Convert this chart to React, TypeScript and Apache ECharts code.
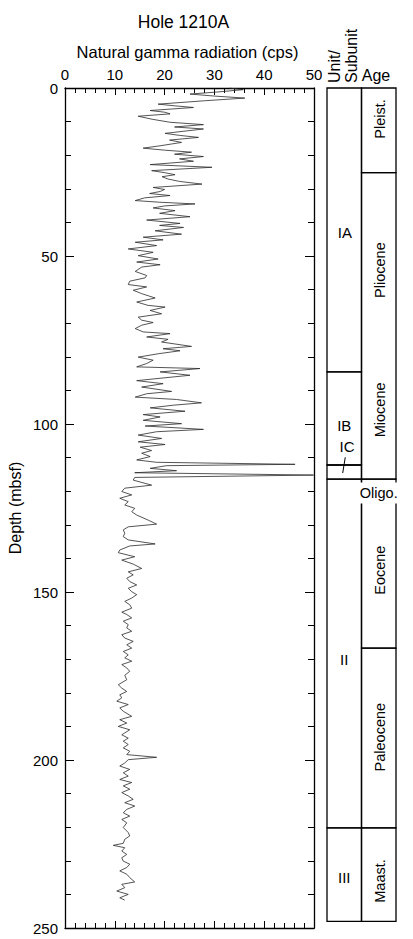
import React, { useEffect, useRef } from "react";
import * as echarts from "echarts";

// Natural gamma radiation (cps) vs depth (mbsf), Hole 1210A
const depthM: number[] = [
  0.0, 0.5, 1.2, 1.8, 2.4, 3.0, 3.8, 4.8, 5.3, 5.8, 6.7, 7.2, 7.7, 8.4, 9.3, 10.2, 10.9, 11.6, 12.2, 13.5,
  14.1, 14.7, 15.5, 16.2, 17.2, 17.9, 18.5, 19.1, 19.7, 20.4, 21.1, 21.8, 22.8, 23.6, 24.6, 25.2, 25.8, 26.4, 27.1, 27.8,
  28.6, 29.6, 30.2, 30.8, 31.4, 32.0, 32.7, 33.5, 34.0, 34.5, 35.1, 35.7, 36.5, 37.3, 38.3, 39.3, 40.3, 40.9, 41.5, 42.5,
  43.5, 44.4, 45.2, 45.9, 46.9, 47.9, 48.9, 49.9, 50.9,
  51.8, 52.6, 53.3, 54.6, 55.8, 56.5, 57.5, 58.5, 59.2, 60.2, 61.2, 62.5, 63.7, 64.7, 65.2, 66.2, 67.2, 68.2, 69.1, 69.8,
  70.6, 71.6, 72.6, 73.1, 74.1, 74.8, 75.6, 76.9, 77.6, 78.2, 79.1, 80.1, 81.0, 82.0, 83.0, 83.5, 84.5, 85.5, 86.3, 87.1,
  88.0, 89.0, 90.3, 91.0, 92.0, 92.7, 93.7, 94.4, 95.2, 96.2, 97.2, 97.9, 98.9, 99.9, 100.6,
  101.6, 102.3, 103.3, 104.3, 105.3, 106.1, 106.9, 107.9, 108.7, 109.7, 110.7, 111.4, 112.0, 112.4, 113.2, 113.9, 114.5, 115.2, 115.9, 116.7,
  118.2, 119.1, 120.1, 121.1, 122.1, 123.1, 124.1, 125.1, 126.1, 127.1, 128.6, 129.8, 130.6, 131.5, 132.5, 133.5, 134.5, 135.7, 136.3, 137.5,
  138.3, 139.5, 140.5, 141.7, 143.0, 144.0, 144.9, 145.9, 146.9, 147.9, 148.9, 149.9,
  150.8, 151.8, 152.8, 153.8, 154.8, 156.0, 156.7, 157.7, 158.7, 159.7, 160.7, 161.7, 162.7, 163.7, 164.7, 165.7, 166.7, 167.7, 168.7, 169.6,
  170.6, 171.6, 172.6, 173.6, 174.8, 176.1, 177.6, 178.6, 179.6, 180.6, 181.5, 182.5, 183.5, 184.5, 185.5, 187.0, 188.0, 189.0, 190.0, 191.0,
  192.5, 193.5, 194.4, 195.4, 196.4, 197.4, 198.4, 199.2, 199.9, 200.9,
  201.8, 202.8, 203.8, 204.8, 205.8, 206.7, 207.7, 208.7, 209.7, 210.7, 211.7, 212.7, 213.7, 214.7, 215.7, 216.7, 217.7, 218.7, 220.1, 221.6,
  222.6, 223.6, 224.8, 225.4, 226.1, 227.1, 228.1, 229.1, 230.1, 231.0, 232.0, 233.0, 234.0, 235.0, 236.3, 237.0, 238.0, 239.0, 240.0, 241.0,
  241.7,
];

const gammaCps: number[] = [
  33.0, 35.8, 30.5, 25.1, 30.0, 36.1, 28.0, 18.7, 22.0, 25.8, 17.1, 20.0, 21.1, 14.7, 17.5, 21.1, 27.8, 22.0, 27.8, 20.1,
  23.0, 26.8, 21.0, 23.4, 19.1, 15.7, 20.0, 25.4, 22.0, 27.8, 23.0, 25.8, 17.1, 29.5, 17.4, 20.0, 22.1, 19.5, 20.7, 23.0,
  27.5, 17.7, 20.0, 19.1, 17.0, 21.1, 16.0, 14.1, 19.0, 26.1, 20.0, 17.7, 22.1, 19.0, 25.1, 16.4, 23.1, 19.0, 23.8, 18.1,
  23.4, 15.7, 19.7, 14.1, 18.4, 12.7, 17.7, 14.7, 18.7,
  14.4, 19.1, 15.4, 14.1, 16.4, 16.1, 13.0, 12.7, 16.4, 13.7, 15.4, 18.1, 14.4, 16.7, 20.1, 17.1, 19.4, 14.7, 15.4, 17.7,
  15.4, 14.1, 15.7, 21.1, 16.4, 20.7, 19.4, 25.4, 19.7, 23.1, 18.7, 14.7, 17.7, 16.4, 14.4, 27.1, 19.1, 25.1, 19.7, 14.4,
  19.7, 15.4, 21.4, 16.4, 14.1, 22.4, 27.4, 21.8, 17.1, 24.1, 15.7, 19.1, 15.7, 23.4, 16.1,
  27.8, 18.4, 14.7, 19.4, 14.7, 20.1, 15.1, 17.4, 15.4, 17.1, 14.4, 18.4, 46.2, 20.4, 17.1, 22.4, 14.0, 49.9, 14.0, 13.7,
  17.4, 12.0, 11.4, 13.4, 11.0, 12.7, 12.0, 14.0, 13.4, 14.4, 16.7, 18.4, 12.7, 11.7, 12.0, 11.7, 12.7, 18.1, 13.0, 11.0,
  10.7, 14.0, 11.4, 13.7, 15.4, 12.7, 13.7, 12.4, 13.0, 14.4, 12.7, 13.4,
  14.4, 13.4, 12.0, 13.0, 13.4, 11.4, 12.4, 13.4, 11.7, 12.7, 12.4, 13.4, 11.4, 12.0, 13.7, 12.4, 13.4, 11.7, 12.7, 12.0,
  13.4, 11.4, 12.4, 13.0, 12.0, 12.4, 10.7, 11.4, 12.4, 11.0, 11.4, 10.4, 12.7, 11.0, 11.7, 13.4, 11.0, 12.4, 10.7, 13.0,
  11.4, 12.7, 11.7, 12.7, 11.7, 13.0, 12.4, 18.4, 12.7, 12.0,
  11.0, 13.0, 11.7, 12.7, 11.0, 13.4, 11.7, 13.0, 11.4, 12.7, 13.7, 12.0, 14.0, 12.4, 11.7, 13.0, 11.4, 12.4, 11.7, 12.7,
  13.0, 12.0, 11.7, 9.7, 12.0, 11.4, 12.4, 11.4, 11.7, 13.0, 12.4, 11.0, 12.4, 13.0, 14.0, 11.4, 12.0, 10.4, 12.7, 11.0,
  12.0,
];

const xTicks = [0, 10, 20, 30, 40, 50];
const yTicks = [0, 50, 100, 150, 200, 250];

// Lithologic units: [column, top depth, bottom depth]
const unitNames = ["IA", "IB", "IC", "II", "III"];
const unitTops = [0, 84.5, 112.2, 116.4, 220.2];
const unitBases = [84.5, 112.2, 116.4, 220.2, 248];
const unitLabelX = [0.52, 0.5, 0.58, 0.5, 0.5];
const unitLabelDepth = [42.9, 100.3, 106.8, 170.2, 235.1];

// Age boxes (drawn boxes) and labels
const ageBoxTops = [0, 25.2, 116.4, 166.7, 220.2];
const ageBoxBases = [25.2, 116.4, 166.7, 220.2, 248];
const ageNames = ["Pleist.", "Pliocene", "Miocene", "Oligo.", "Eocene", "Paleocene", "Maast."];
const ageLabelDepth = [9.2, 54.2, 95.8, 120.5, 143.5, 193.2, 236];
const ageLabelVertical = [true, true, true, false, true, true, true];

const FONT = "'Liberation Sans', Arial, Helvetica, sans-serif";

export default function App() {
  const ref = useRef<HTMLDivElement>(null);

  useEffect(() => {
    if (!ref.current) return;
    const chart = echarts.init(ref.current, undefined, { renderer: "svg" });

    const lineData = depthM.map((d, i) => [gammaCps[i], d]);

    const boxes: number[][] = [];
    unitTops.forEach((t, i) => boxes.push([0, t, unitBases[i]]));
    ageBoxTops.forEach((t, i) => boxes.push([1, t, ageBoxBases[i]]));

    const labels: any[] = [];
    unitNames.forEach((n, i) =>
      labels.push({ value: [unitLabelX[i], unitLabelDepth[i], 0], name: n })
    );
    ageNames.forEach((n, i) =>
      labels.push({
        value: [ageLabelVertical[i] ? 1.55 : 1.5, ageLabelDepth[i], ageLabelVertical[i] ? 1 : 2],
        name: n,
      })
    );

    const axisLineStyle = { color: "#000", width: 1.3 };
    const tickStyle = { color: "#000", width: 1 };

    const xAxisBase = (pos: "top" | "bottom", showLabel: boolean) => ({
      type: "value",
      gridIndex: 0,
      position: pos,
      min: xTicks[0],
      max: xTicks[xTicks.length - 1],
      interval: 10,
      axisLine: { show: true, onZero: false, lineStyle: axisLineStyle },
      axisTick: { show: true, inside: true, length: 7, lineStyle: tickStyle },
      minorTick: { show: true, splitNumber: 5, length: 5, lineStyle: tickStyle },
      splitLine: { show: false },
      axisLabel: {
        show: showLabel,
        fontSize: 15,
        color: "#000",
        fontFamily: FONT,
        margin: 6,
      },
    });

    const yAxisBase = (pos: "left" | "right", showLabel: boolean) => ({
      type: "value",
      gridIndex: 0,
      position: pos,
      inverse: true,
      min: yTicks[0],
      max: yTicks[yTicks.length - 1],
      interval: 50,
      axisLine: { show: true, onZero: false, lineStyle: axisLineStyle },
      axisTick: { show: true, inside: true, length: 9, lineStyle: tickStyle },
      minorTick: { show: true, splitNumber: 5, length: 6, lineStyle: tickStyle },
      splitLine: { show: false },
      axisLabel: {
        show: showLabel,
        fontSize: 15,
        color: "#000",
        fontFamily: FONT,
        margin: 7,
      },
    });

    chart.setOption({
      animation: false,
      backgroundColor: "#fff",
      grid: [
        { left: 65, top: 88, width: 249, height: 840, outerBoundsMode: "none" },
        { left: 327, top: 88, width: 69, height: 840, outerBoundsMode: "none" },
      ],
      xAxis: [
        xAxisBase("top", true),
        xAxisBase("bottom", false),
        { type: "value", gridIndex: 1, min: 0, max: 2, show: false },
      ],
      yAxis: [
        yAxisBase("left", true),
        yAxisBase("right", false),
        { type: "value", gridIndex: 1, min: 0, max: 250, inverse: true, show: false },
      ],
      graphic: [
        {
          type: "text",
          x: 183.5,
          y: 22,
          style: { text: "Hole 1210A", font: `17.5px ${FONT}`, fill: "#000", align: "center", verticalAlign: "middle" },
        },
        {
          type: "text",
          x: 187.5,
          y: 52,
          style: {
            text: "Natural gamma radiation (cps)",
            font: `16.5px ${FONT}`,
            fill: "#000",
            align: "center",
            verticalAlign: "middle",
          },
        },
        {
          type: "text",
          x: 15,
          y: 508,
          rotation: Math.PI / 2,
          style: { text: "Depth (mbsf)", font: `16px ${FONT}`, fill: "#000", align: "center", verticalAlign: "middle" },
        },
        {
          type: "text",
          x: 334,
          y: 83,
          rotation: Math.PI / 2,
          style: { text: "Unit/", font: `16px ${FONT}`, fill: "#000", align: "left", verticalAlign: "middle" },
        },
        {
          type: "text",
          x: 351.5,
          y: 83,
          rotation: Math.PI / 2,
          style: { text: "Subunit", font: `16px ${FONT}`, fill: "#000", align: "left", verticalAlign: "middle" },
        },
        {
          type: "text",
          x: 376,
          y: 75,
          style: { text: "Age", font: `16px ${FONT}`, fill: "#000", align: "center", verticalAlign: "middle" },
        },
      ],
      series: [
        {
          type: "line",
          xAxisIndex: 0,
          yAxisIndex: 0,
          data: lineData,
          symbol: "none",
          lineStyle: { color: "#2a2a2a", width: 0.8 },
          z: 2,
        },
        {
          type: "custom",
          xAxisIndex: 2,
          yAxisIndex: 2,
          data: boxes,
          clip: false,
          z: 2,
          itemStyle: { color: "#000" },
          renderItem: (params: any, api: any) => {
            const c = api.value(0);
            const p1 = api.coord([c, api.value(1)]);
            const p2 = api.coord([c + 1, api.value(2)]);
            return {
              type: "rect",
              shape: { x: p1[0], y: p1[1], width: p2[0] - p1[0], height: p2[1] - p1[1] },
              style: { fill: "none", stroke: "#000", lineWidth: 1.3 },
            };
          },
        },
        {
          type: "custom",
          xAxisIndex: 2,
          yAxisIndex: 2,
          data: [[0.53, 109.9, 0.455, 114.6]],
          clip: false,
          z: 3,
          itemStyle: { color: "#000" },
          renderItem: (params: any, api: any) => {
            const a = api.coord([api.value(0), api.value(1)]);
            const b = api.coord([api.value(2), api.value(3)]);
            return {
              type: "line",
              shape: { x1: a[0], y1: a[1], x2: b[0], y2: b[1] },
              style: { stroke: "#000", lineWidth: 1 },
            };
          },
        },
        {
          type: "custom",
          xAxisIndex: 2,
          yAxisIndex: 2,
          data: labels,
          clip: false,
          z: 4,
          itemStyle: { color: "#000" },
          renderItem: (params: any, api: any) => {
            const p = api.coord([api.value(0), api.value(1)]);
            const kind = api.value(2);
            const name = labels[params.dataIndex].name;
            const style: any = {
              text: name,
              font: `${kind === 0 ? 15 : 14.5}px ${FONT}`,
              fill: "#000",
              align: "center",
              verticalAlign: "middle",
            };
            if (kind === 2) {
              style.backgroundColor = "#fff";
              style.padding = [3, 3, 3, 3];
            }
            return {
              type: "text",
              x: p[0],
              y: p[1],
              rotation: kind === 1 ? Math.PI / 2 : 0,
              style,
            };
          },
        },
      ],
    });

    return () => chart.dispose();
  }, []);

  return (
    <div
      ref={ref}
      style={{ position: "fixed", left: 0, top: 0, width: 413, height: 939 }}
    />
  );
}
